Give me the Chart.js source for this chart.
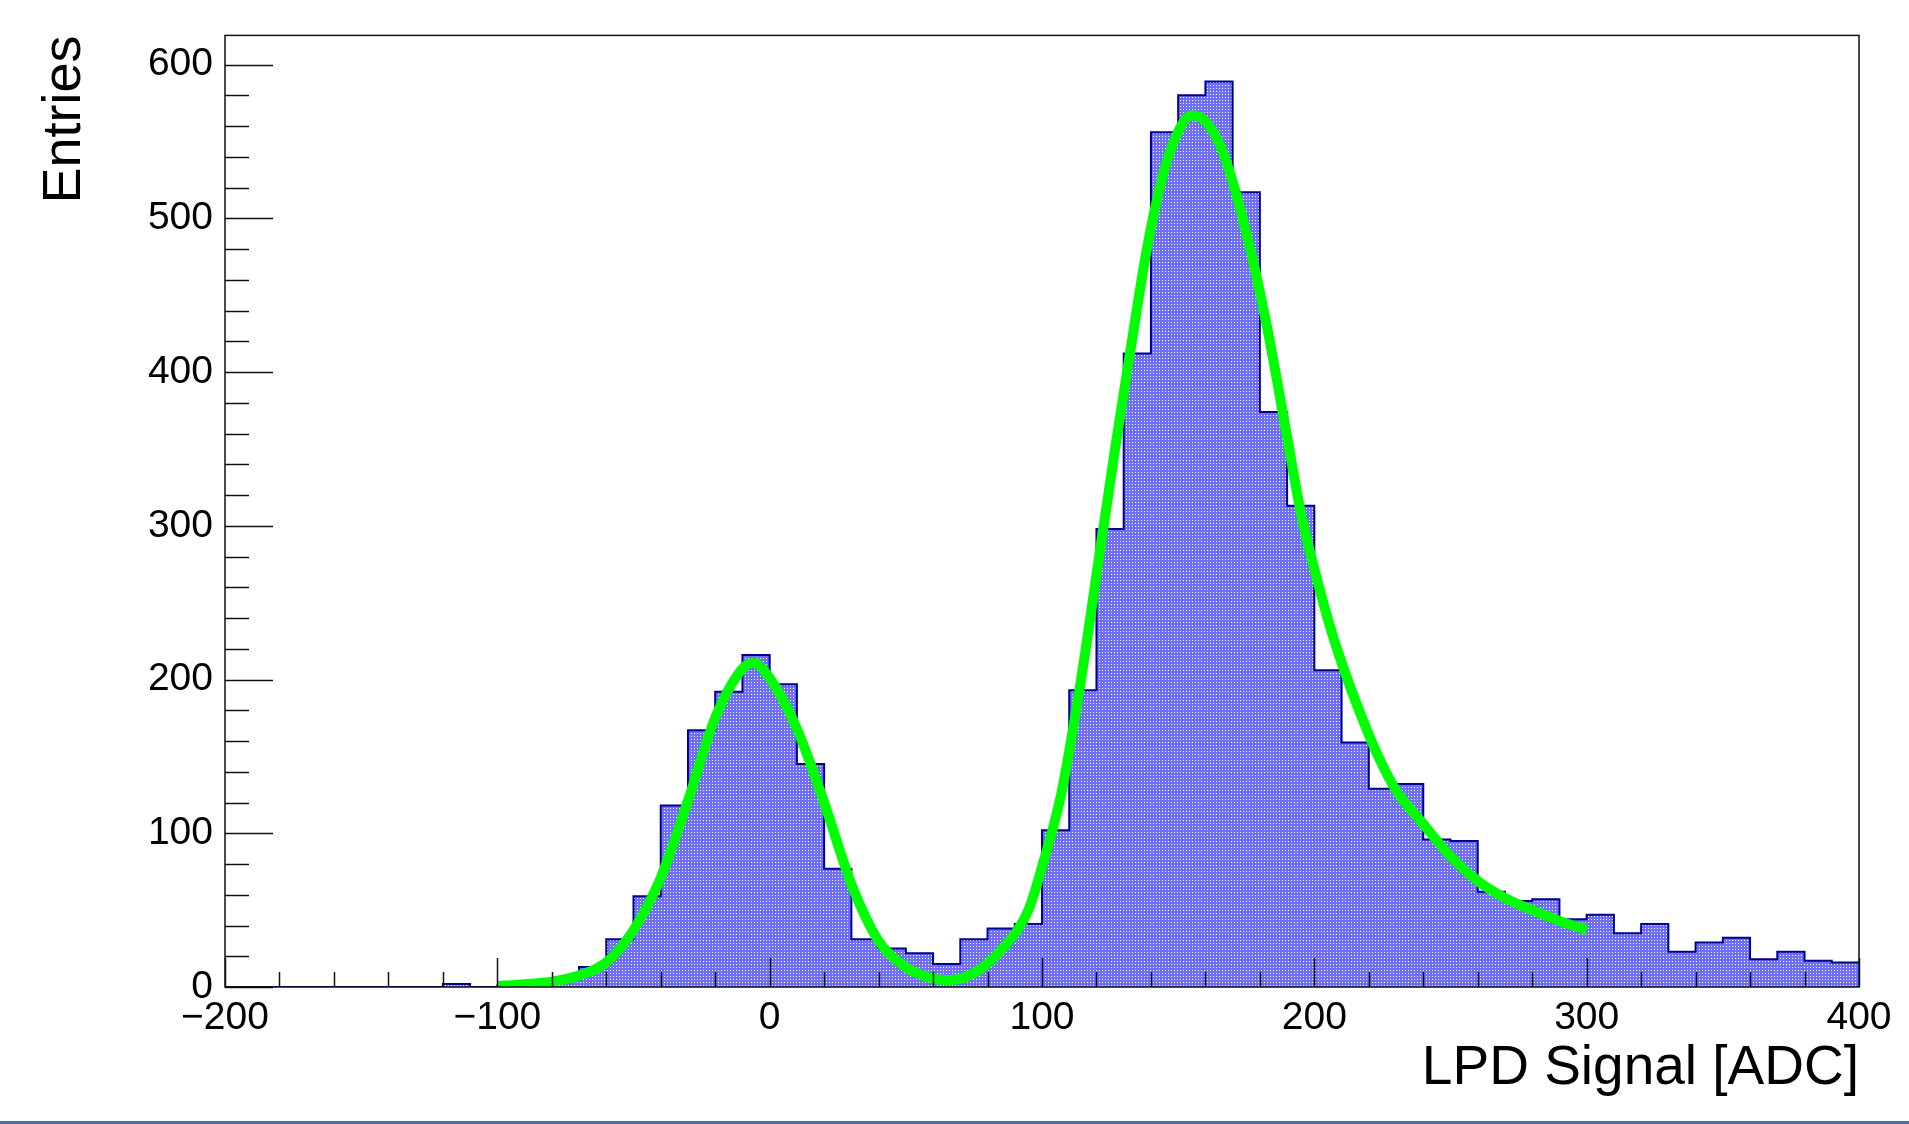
<!DOCTYPE html>
<html lang="en">
<head>
<meta charset="UTF-8">
<title>LPD Signal</title>
<script src="https://cdn.jsdelivr.net/npm/chart.js"></script>
<style>
  html, body { margin: 0; padding: 0; background: #fff; }
</style>
</head>
<body>
<canvas id="lpdChart" width="1909" height="1124"></canvas>
<script>
// histogram bins (lower edges + last upper edge), ADC
const binEdges = [-200, -190, -180, -170, -160, -150, -140, -130, -120, -110,
  -100, -90, -80, -70, -60, -50, -40, -30, -20, -10,
  0, 10, 20, 30, 40, 50, 60, 70, 80, 90,
  100, 110, 120, 130, 140, 150, 160, 170, 180, 190,
  200, 210, 220, 230, 240, 250, 260, 270, 280, 290,
  300, 310, 320, 330, 340, 350, 360, 370, 380, 390, 400];
const binCounts = [0, 0, 0, 0, 0, 0, 0, 0, 2, 0,
  1, 2, 5, 13, 31, 59, 118, 167, 192, 216,
  197, 145, 77, 31, 25, 22, 15, 31, 38, 41,
  102, 193, 298, 412, 556, 580, 589, 517, 374, 313,
  206, 159, 129, 132, 96, 95, 62, 56, 57, 44,
  47, 35, 41, 23, 29, 32, 18, 23, 17, 16];

// fit curve
const fitX = [-100, -90, -80, -70, -60, -50, -40, -30, -20, -10, -6, 0, 10, 20, 30, 40, 50, 60, 66, 75,
  85, 95, 100, 107, 114, 121, 127, 133, 138, 143, 148, 155, 160, 165, 170, 177, 183, 190, 195, 200,
  206, 212, 218, 224, 230, 240, 250, 260, 270, 280, 290, 300];
const fitY = [0.5, 1.8, 3.5, 7.5, 16, 37, 71, 121, 175, 207, 211, 201, 168, 120, 67, 30, 13, 5.5, 4.5, 9,
  24, 50, 78, 125, 196, 280, 352, 420, 475, 518, 548, 567, 563, 549, 524, 476, 426, 358, 309, 272,
  233, 201, 173, 148, 128, 106, 85, 69, 58, 50, 43, 37];

const xMajorTicks = [-200, -100, 0, 100, 200, 300, 400];
const yMajorTicks = [0, 100, 200, 300, 400, 500, 600];
const minorStep = 20;
const yTop = 619;

const FONT = '"Liberation Sans", Arial, Helvetica, sans-serif';

const canvas = document.getElementById('lpdChart');
const ctx = canvas.getContext('2d');

// dotted blue fill like the ROOT fill style
function makeFill() {
  const c = document.createElement('canvas');
  c.width = 3; c.height = 3;
  const g = c.getContext('2d');
  g.fillStyle = 'rgb(110,110,250)';
  g.fillRect(0, 0, 3, 3);
  g.fillStyle = '#ffffff';
  g.fillRect(1, 1, 1, 1);
  return ctx.createPattern(c, 'repeat');
}

// ticks inside the frame + box + bottom strip
const rootFrame = {
  id: 'rootFrame',
  afterDraw(chart) {
    const { ctx, chartArea: a, scales: { x, y } } = chart;
    ctx.save();
    ctx.strokeStyle = '#111';
    ctx.lineWidth = 1.5;
    for (let v = xMajorTicks[0]; v <= xMajorTicks[xMajorTicks.length - 1]; v += minorStep) {
      const px = Math.round(x.getPixelForValue(v)) + 0.5;
      const len = xMajorTicks.includes(v) ? 29 : 15;
      ctx.beginPath();
      ctx.moveTo(px, a.bottom);
      ctx.lineTo(px, a.bottom - len);
      ctx.stroke();
    }
    for (let v = 0; v <= yTop; v += minorStep) {
      const py = Math.round(y.getPixelForValue(v)) + 0.5;
      const len = yMajorTicks.includes(v) ? 48 : 24;
      ctx.beginPath();
      ctx.moveTo(a.left, py);
      ctx.lineTo(a.left + len, py);
      ctx.stroke();
    }
    ctx.strokeRect(a.left, a.top, a.right - a.left, a.bottom - a.top);
    ctx.fillStyle = '#4a6fa8';
    ctx.fillRect(0, chart.height - 3, chart.width, 3);
    ctx.restore();
  }
};

const fitPoints = fitX.map((v, i) => ({ x: v, y: fitY[i] }));
const histPoints = binCounts.map((c, i) => ({ x: binEdges[i], y: c }));
histPoints.push({ x: binEdges[binEdges.length - 1], y: binCounts[binCounts.length - 1] });

const fmt = v => (v < 0 ? '\u2212' + Math.abs(v) : String(v));

new Chart(ctx, {
  type: 'line',
  data: {
    datasets: [
      {
        label: 'fit',
        data: fitPoints,
        borderColor: '#00ff00',
        borderWidth: 10,
        pointRadius: 0,
        cubicInterpolationMode: 'monotone',
        fill: false,
        order: 0
      },
      {
        label: 'LPD',
        data: histPoints,
        stepped: 'before',
        borderColor: '#000090',
        borderWidth: 2,
        pointRadius: 0,
        fill: 'origin',
        backgroundColor: makeFill(),
        order: 1
      }
    ]
  },
  options: {
    responsive: false,
    animation: false,
    devicePixelRatio: 1,
    layout: { padding: { top: 33, right: 50, left: 0, bottom: 0 } },
    plugins: { legend: { display: false }, tooltip: { enabled: false } },
    scales: {
      x: {
        type: 'linear',
        min: -200,
        max: 400,
        grid: { display: false, drawTicks: false },
        border: { display: false },
        ticks: {
          stepSize: 100,
          autoSkip: false,
          maxRotation: 0,
          padding: 8,
          color: '#000',
          font: { family: FONT, size: 39 },
          callback: v => (xMajorTicks.includes(v) ? fmt(v) : '')
        },
        title: {
          display: true,
          text: 'LPD Signal [ADC]',
          align: 'end',
          color: '#000',
          font: { family: FONT, size: 55 },
          padding: { top: 0, bottom: 22 }
        },
        afterFit: s => { s.height = 137; }
      },
      y: {
        type: 'linear',
        min: 0,
        max: yTop,
        grid: { display: false, drawTicks: false },
        border: { display: false },
        ticks: {
          stepSize: 100,
          includeBounds: false,
          padding: 12,
          color: '#000',
          font: { family: FONT, size: 39 },
          callback: v => (yMajorTicks.includes(v) ? String(v) : '')
        },
        title: {
          display: true,
          text: 'Entries',
          align: 'end',
          color: '#000',
          font: { family: FONT, size: 54 },
          padding: { top: 33, bottom: 0 }
        },
        afterFit: s => { s.width = 225; }
      }
    }
  },
  plugins: [rootFrame]
});
</script>
</body>
</html>
